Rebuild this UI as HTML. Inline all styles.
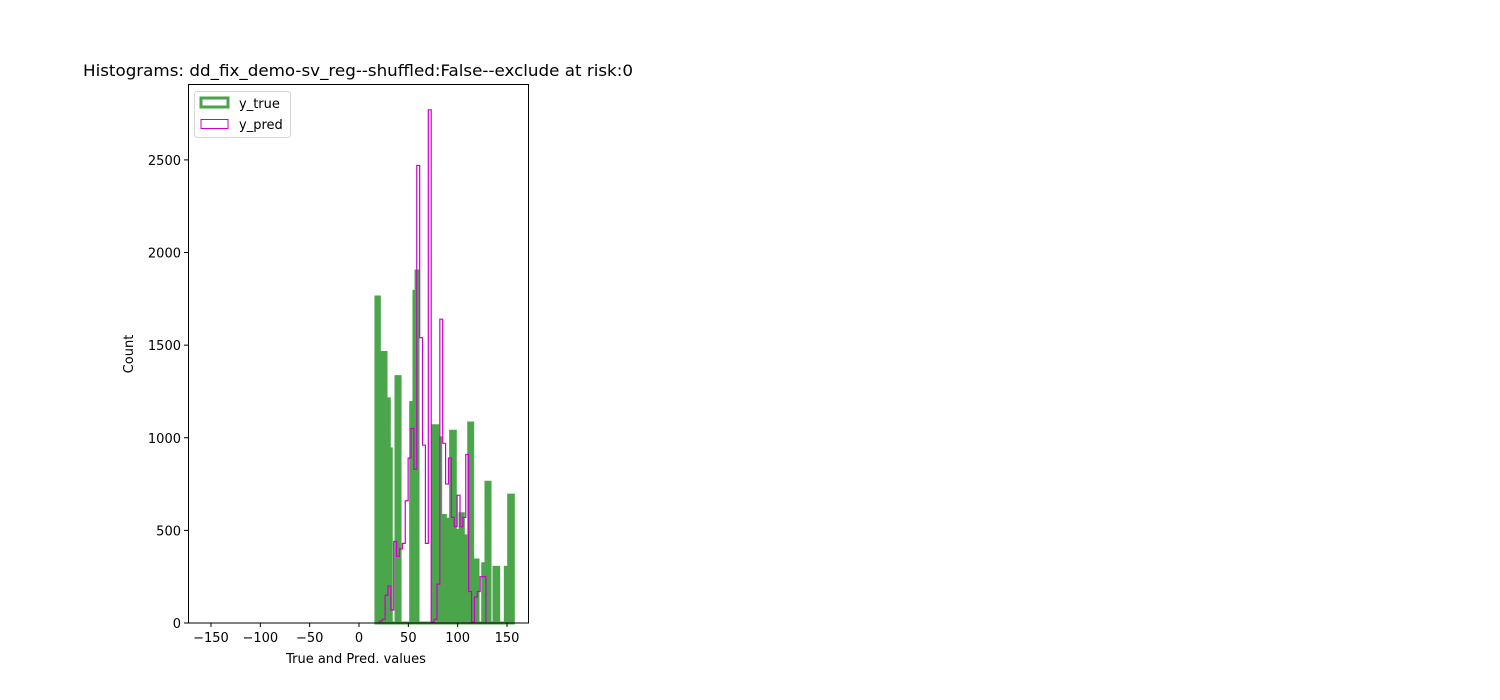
<!DOCTYPE html>
<html><head><meta charset="utf-8"><style>
html,body{margin:0;padding:0;background:#fff;width:1500px;height:700px;overflow:hidden}
text{font-family:"DejaVu Sans","Liberation Sans",sans-serif;fill:#000}
</style></head><body>
<svg id="chart" width="1500" height="700" xmlns="http://www.w3.org/2000/svg">
<text x="83" y="76" font-size="16" textLength="550" lengthAdjust="spacingAndGlyphs">Histograms: dd_fix_demo-sv_reg--shuffled:False--exclude at risk:0</text>
<g id="marks"></g>
<rect x="188.5" y="84.5" width="340" height="538.5" fill="none" stroke="#000" stroke-width="1"/>
<g id="xticks"></g><g id="yticks"></g>
<text x="356" y="663" font-size="13" text-anchor="middle">True and Pred. values</text>
<text x="133" y="354" font-size="13" text-anchor="middle" transform="rotate(-90 133 354)">Count</text>
<g>
<rect x="194.5" y="91.5" width="96" height="46" rx="3" fill="#fff" stroke="#ccc" opacity="0.8"/>
<rect x="201" y="98" width="27" height="9" fill="none" stroke="#4aa34a" stroke-width="3"/>
<text x="239" y="108" font-size="13">y_true</text>
<rect x="201" y="119.5" width="27" height="9" fill="none" stroke="#cc00cc" stroke-width="1"/>
<text x="239" y="129" font-size="13">y_pred</text>
</g>
</svg>
<script>
const xTicks=[-150,-100,-50,0,50,100,150];
const yTicks=[0,500,1000,1500,2000,2500];
const greenEdges=[17.2,20.6,22.6,27.4,30.7,32.7,37.5,41.6,52.4,55.7,57.8,59.8,75.0,79.8,82.8,87.5,92.9,97.6,102.4,105.7,111.2,115.2,120.6,125.4,128.7,132.8,136.8,141.6,148.3,151.7,156.4];
const greenCounts=[1760,540,1460,1210,940,0,1330,0,1190,1790,1900,0,1065,1000,580,560,1035,500,590,470,1080,340,0,320,760,0,300,0,300,690];
const predStart=20.6;
const predWidth=2.92;
const predCounts=[10,20,150,200,70,440,360,400,430,660,890,1050,830,2470,1540,960,430,2770,5,20,210,1640,970,750,890,570,520,690,520,570,910,170,5,140,170,250,250];
const NS="http://www.w3.org/2000/svg";
const X=v=>359+v*0.9867;
const Y=c=>623-c*0.18524;
function stepPath(edges,counts){
  let d="M"+X(edges[0])+","+Y(0);
  for(let i=0;i<counts.length;i++){
    d+=" L"+X(edges[i])+","+Y(counts[i])+" L"+X(edges[i+1])+","+Y(counts[i]);
  }
  d+=" L"+X(edges[edges.length-1])+","+Y(0);
  return d;
}
const marks=document.getElementById('marks');
const gg=document.createElementNS(NS,'g');
gg.setAttribute('opacity','0.7');


const g=document.createElementNS(NS,'path');
g.setAttribute('d',stepPath(greenEdges,greenCounts)+" Z");
g.setAttribute('fill','green');g.setAttribute('stroke','green');g.setAttribute('stroke-width','3');


gg.appendChild(g);
marks.appendChild(gg);
const pe=predCounts.map((_,i)=>predStart+i*predWidth);pe.push(predStart+predCounts.length*predWidth);
const m=document.createElementNS(NS,'path');
m.setAttribute('d',stepPath(pe,predCounts));
m.setAttribute('fill','none');m.setAttribute('stroke','#cc00cc');m.setAttribute('stroke-width','1.2');


marks.appendChild(m);
const xt=document.getElementById('xticks');
xTicks.forEach(v=>{
  const l=document.createElementNS(NS,'line');
  l.setAttribute('x1',X(v));l.setAttribute('x2',X(v));l.setAttribute('y1',623);l.setAttribute('y2',627);l.setAttribute('stroke','#000');
  
  
  xt.appendChild(l);
  const t=document.createElementNS(NS,'text');
  t.setAttribute('x',X(v));t.setAttribute('y',642);t.setAttribute('font-size','13');t.setAttribute('text-anchor','middle');
  t.textContent=v<0?'\u2212'+Math.abs(v):String(v);
  
  
  xt.appendChild(t);
});
const yt=document.getElementById('yticks');
yTicks.forEach(v=>{
  const l=document.createElementNS(NS,'line');
  l.setAttribute('x1',184);l.setAttribute('x2',188);l.setAttribute('y1',Y(v));l.setAttribute('y2',Y(v));l.setAttribute('stroke','#000');
  
  
  yt.appendChild(l);
  const t=document.createElementNS(NS,'text');
  t.setAttribute('x',181);t.setAttribute('y',Y(v)+5);t.setAttribute('font-size','13');t.setAttribute('text-anchor','end');
  t.textContent=String(v);
  
  
  yt.appendChild(t);
});
</script>
</body></html>
